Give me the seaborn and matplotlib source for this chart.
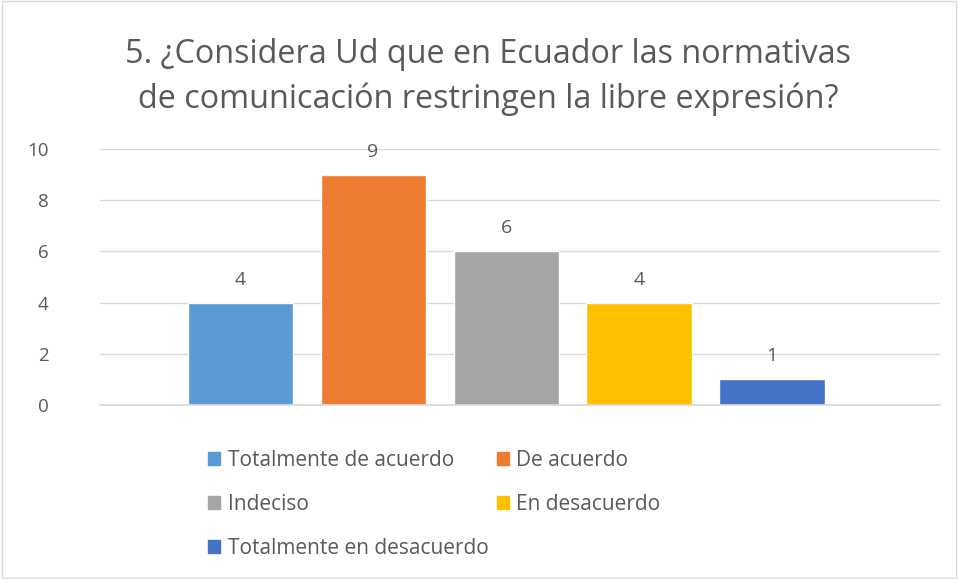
import matplotlib
matplotlib.use("Agg")
import matplotlib.pyplot as plt
import seaborn as sns
import pandas as pd
from matplotlib.patches import Rectangle

categories = ["Totalmente de acuerdo", "De acuerdo", "Indeciso", "En desacuerdo", "Totalmente en desacuerdo"]
values = [4, 9, 6, 4, 1]
colors = ["#5B9BD5", "#ED7D31", "#A5A5A5", "#FFC000", "#4472C4"]
yticks = [0, 2, 4, 6, 8, 10]
title = "5. ¿Considera Ud que en Ecuador las normativas\nde comunicación restringen la libre expresión?"

sns.set_theme(style="white")
plt.rcParams['font.family'] = ['Open Sans', 'DejaVu Sans']
txt = "#595959"

df = pd.DataFrame({"cat": categories, "val": values})
fig = plt.figure(figsize=(9.58, 5.79), dpi=100)
ax = fig.add_axes([100/958, 1-405/579, 840/958, 256/579])
sns.barplot(data=df, x="cat", y="val", hue="cat", palette=colors, order=categories,
            hue_order=categories, width=0.79, dodge=False, ax=ax, legend=False, saturation=1)
ax.set_xlim(-1.053, 5.263)
ax.set_ylim(0, 10)
ax.set_yticks(yticks)
ax.set_yticklabels([str(t) for t in yticks], color=txt, fontsize=13.5)
ax.tick_params(axis='y', length=0, pad=37)
ax.set_xticks([])
ax.set_xlabel("")
ax.set_ylabel("")
ax.grid(axis='y', color="#D9D9D9", linewidth=1)
ax.set_axisbelow(True)
for s in ["top", "right", "left"]:
    ax.spines[s].set_visible(False)
ax.spines["bottom"].set_color("#D9D9D9")
for i, v in enumerate(values):
    ax.text(i, v + 0.55, str(v), ha='center', va='bottom', color=txt, fontsize=14)

fig.text(488/958, 1-77/579, title, ha='center', va='center', fontsize=23.3, color=txt, linespacing=1.45)

handles = [Rectangle((0, 0), 1, 1, color=c) for c in colors]
order = [0, 2, 4, 1, 3]
fig.legend([handles[i] for i in order], [categories[i] for i in order], ncol=2,
           loc='upper left', bbox_to_anchor=(189/958, 1-431/579), frameon=False,
           fontsize=15, labelcolor=txt, handlelength=0.6, handleheight=0.6,
           handletextpad=0.35, columnspacing=0.4, labelspacing=1.1)

fig.patches.append(Rectangle((0.002, 0.002), 0.996, 0.996, transform=fig.transFigure,
                             fill=False, edgecolor="#D9D9D9", linewidth=1))
fig.savefig("out.png", dpi=100, facecolor="white")
